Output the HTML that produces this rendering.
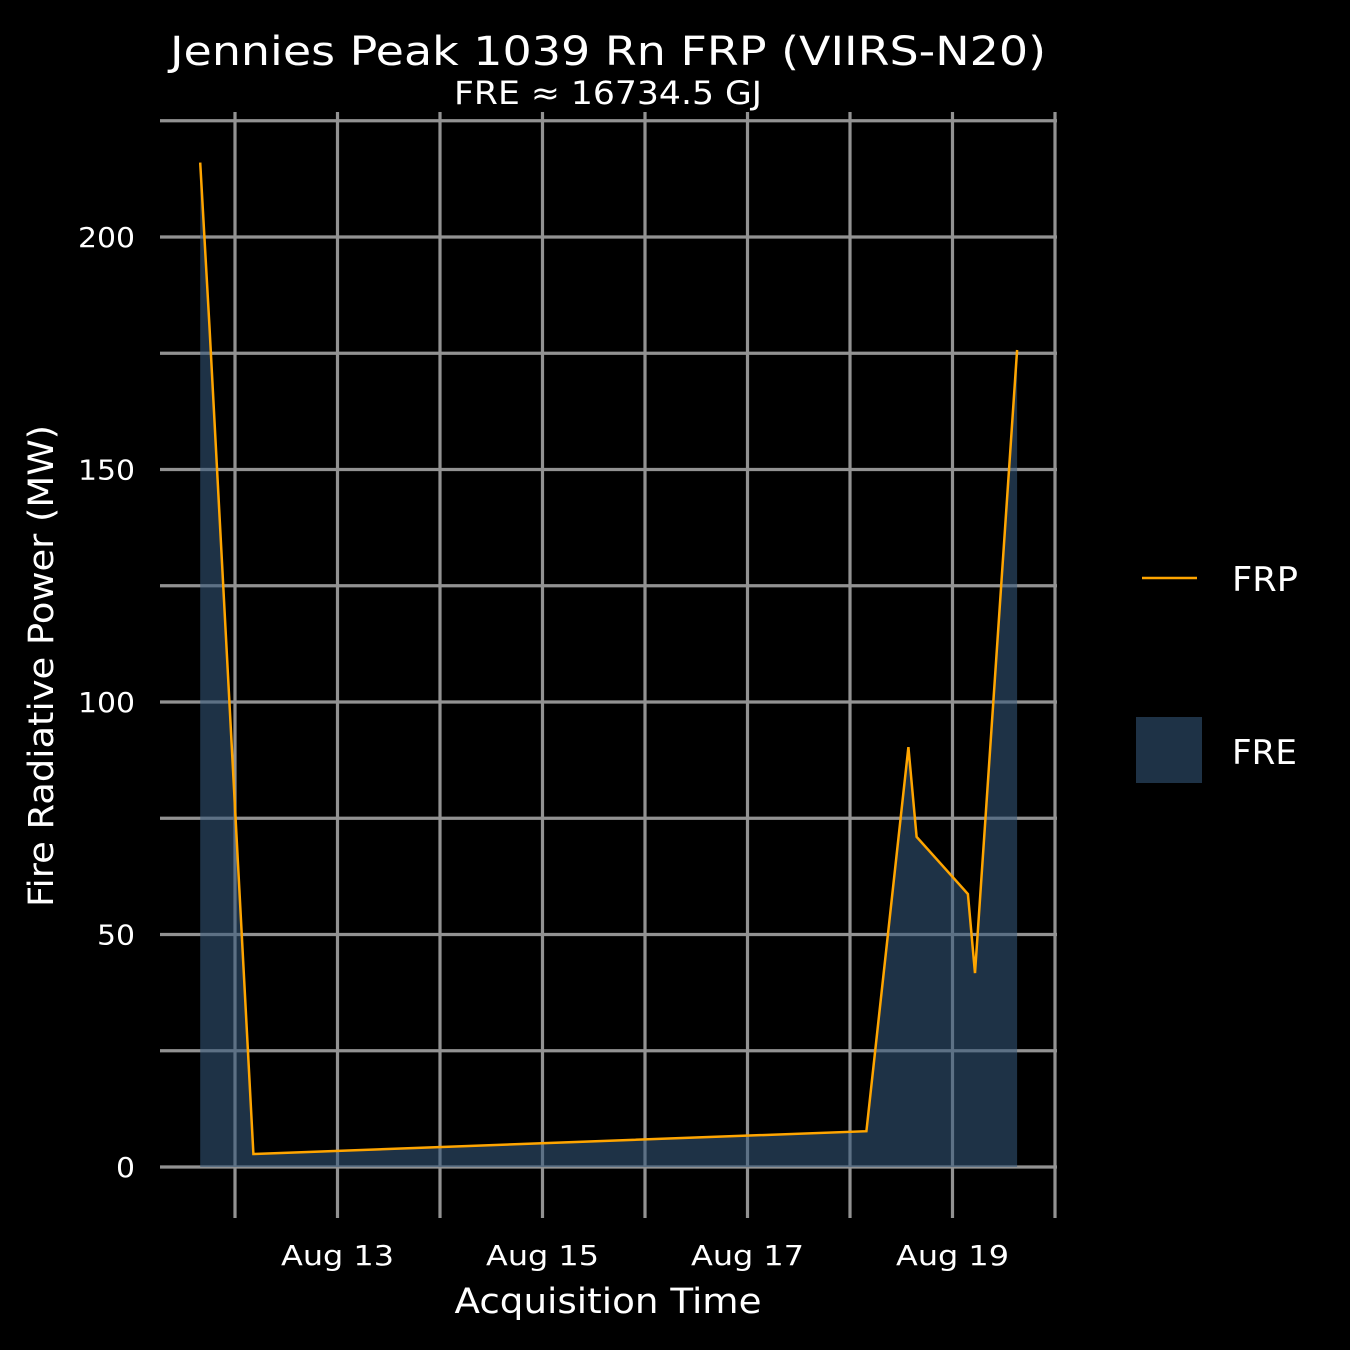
<!DOCTYPE html>
<html><head><meta charset="utf-8"><style>
html,body{margin:0;padding:0;background:#000;}
svg{display:block;font-family:"DejaVu Sans","Liberation Sans",sans-serif;}
</style></head><body>
<svg id="chart" width="1350" height="1350" viewBox="0 0 1350 1350">
<rect width="1350" height="1350" fill="#000"/>
<g id="grid"></g>
<g id="marks"></g>
<g id="axes"></g>
<text x="608" y="65" text-anchor="middle" fill="#fff" font-size="40" textLength="876" lengthAdjust="spacingAndGlyphs">Jennies Peak 1039 Rn FRP (VIIRS-N20)</text>
<text x="608" y="104" text-anchor="middle" fill="#fff" font-size="32" textLength="308" lengthAdjust="spacingAndGlyphs">FRE ≈ 16734.5 GJ</text>
<text x="608" y="1313" text-anchor="middle" fill="#fff" font-size="35" textLength="307" lengthAdjust="spacingAndGlyphs">Acquisition Time</text>
<text transform="translate(53,666) rotate(-90)" text-anchor="middle" fill="#fff" font-size="35" textLength="482" lengthAdjust="spacingAndGlyphs">Fire Radiative Power (MW)</text>
<g>
<line x1="1142" y1="578" x2="1197" y2="578" stroke="#FFA500" stroke-width="2.5"/>
<text x="1232" y="591" fill="#fff" font-size="34" textLength="66" lengthAdjust="spacingAndGlyphs">FRP</text>
<rect x="1136" y="717" width="66" height="66" fill="#1e3246"/>
<text x="1232" y="764" fill="#fff" font-size="34" textLength="65" lengthAdjust="spacingAndGlyphs">FRE</text>
</g>
</svg>
<script>
// days since Aug 12 00:00
const times = [-0.34, -0.25, 0.18, 6.16, 6.57, 6.65, 7.15, 7.22, 7.63];
const frp = [216, 181, 2.8, 7.7, 90.3, 71, 58.7, 41.7, 175.7];
const yTicks = [0, 50, 100, 150, 200];
const yMinor = [25, 75, 125, 175, 225];
const xTickDays = [1, 3, 5, 7];
const xTickLabels = ["Aug 13", "Aug 15", "Aug 17", "Aug 19"];
const xGridDays = [0, 1, 2, 3, 4, 5, 6, 7, 8];

const NS = "http://www.w3.org/2000/svg";
function xs(d){ return 235 + d * 102.5; }
function ys(v){ return 1167 - v * 4.65; }
function mk(tag, attrs, parent){
  const e = document.createElementNS(NS, tag);
  for (const k in attrs) e.setAttribute(k, attrs[k]);
  parent.appendChild(e);
  return e;
}
const grid = document.getElementById("grid");
const marks = document.getElementById("marks");
const axes = document.getElementById("axes");

yTicks.concat(yMinor).forEach(v => {
  const l = mk("line", {x1:160, x2:1057, y1:ys(v), y2:ys(v), stroke:"#929292", "stroke-width":3.2}, grid);
  
  
});
xGridDays.forEach(d => {
  const l = mk("line", {x1:xs(d), x2:xs(d), y1:112, y2:1218, stroke:"#929292", "stroke-width":3.2}, grid);
  
  
});
yTicks.forEach(v => {
  const s = String(v);
  const t = mk("text", {x:135, y:ys(v)+10, "text-anchor":"end", fill:"#fff", "font-size":28, textLength: s.length*19, lengthAdjust:"spacingAndGlyphs"}, axes);
  t.textContent = s;
  
  
});
xTickDays.forEach((d, i) => {
  const t = mk("text", {x:xs(d), y:1265, "text-anchor":"middle", fill:"#fff", "font-size":28, textLength:113, lengthAdjust:"spacingAndGlyphs"}, axes);
  t.textContent = xTickLabels[i];
  
  
});

let pts = times.map((t, i) => xs(t).toFixed(1) + "," + ys(frp[i]).toFixed(1));
const areaPts = [xs(times[0]).toFixed(1) + "," + ys(0)].concat(pts, [xs(times[times.length-1]).toFixed(1) + "," + ys(0)]);
const area = mk("polygon", {points: areaPts.join(" "), fill:"rgb(53,88,123)", "fill-opacity":0.57}, marks);


const line = mk("polyline", {points: pts.join(" "), fill:"none", stroke:"#FFA500", "stroke-width":2.5, "stroke-linejoin":"miter"}, marks);


</script>
</body></html>
